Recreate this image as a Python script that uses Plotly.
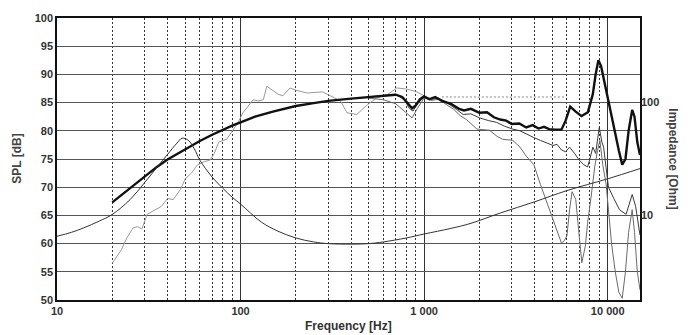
import plotly.graph_objects as go

# --- data ---
# on-axis SPL (thick black)
spl_freq = [20, 25, 30, 35, 40, 50, 60, 70, 80, 90, 100, 120, 150, 200, 250, 300, 400, 500,
            600, 700, 760, 820, 860, 900, 950, 1000, 1070, 1150, 1250, 1400, 1550, 1650, 1800,
            2000, 2200, 2400, 2600, 2800, 3000, 3300, 3600, 3900, 4200, 4500, 4800, 5200, 5600,
            5900, 6250, 6700, 7200, 7800, 8300, 8600, 8900, 9200, 9600, 10000, 10500, 11000,
            11500, 12000, 12500, 13000, 13600, 14000, 14500, 15000]
spl_on = [67.3, 69.8, 72.0, 73.6, 74.9, 76.8, 78.2, 79.3, 80.2, 80.9, 81.5, 82.5, 83.4, 84.4,
          84.9, 85.3, 85.7, 86.0, 86.2, 86.4, 86.0, 84.8, 84.0, 84.5, 85.6, 86.1, 85.6, 86.0,
          85.3, 84.8, 83.9, 83.6, 83.9, 83.2, 83.3, 82.4, 82.0, 81.8, 81.2, 81.3, 80.6, 81.0,
          80.4, 80.7, 80.3, 80.2, 80.2, 81.8, 84.3, 83.4, 82.6, 83.3, 86.5, 90.0, 92.5, 91.5,
          88.5, 86.0, 82.5, 79.5, 76.5, 74.0, 75.0, 80.0, 83.7, 82.5, 78.0, 75.7]

# low-frequency gray curve
lf_freq = [20, 22.5, 24, 26, 27.5, 29, 31, 35, 37, 40, 43, 47, 50, 54, 58, 63, 68, 72, 76, 84,
           91, 97, 103, 110, 117, 125, 133, 139, 150, 160, 170, 186, 200, 230, 280, 307, 350,
           380, 430, 490, 550, 630, 710, 800, 900, 1000]
lf_spl = [56.5, 59.0, 61.0, 62.8, 63.0, 62.6, 65.2, 66.1, 66.6, 68.0, 67.8, 69.6, 71.5, 72.5,
          73.9, 74.5, 74.8, 76.0, 78.0, 78.5, 80.2, 81.5, 83.2, 84.5, 85.5, 85.3, 85.5, 87.9,
          87.2, 86.5, 86.2, 87.6, 87.2, 86.7, 86.9, 86.2, 85.3, 83.2, 82.9, 84.6, 85.8, 86.4,
          87.6, 87.4, 87.0, 86.2]

# off-axis curves (thin)
off1_freq = [500, 600, 700, 780, 830, 870, 920, 1000, 1100, 1200, 1330, 1500, 1630, 1800, 2000,
             2250, 2480, 2750, 3040, 3330, 3600, 3960, 4300, 4700, 5040, 5300, 5600, 5900, 6200,
             6600, 7000, 7400, 7770, 8000, 8300, 8600, 9000, 9300, 9500, 9800, 10100, 10800,
             11600, 12600, 13200, 13600, 14200, 14800, 15000]
off1_spl = [86.0, 86.3, 86.5, 85.5, 84.0, 83.5, 84.8, 86.0, 85.6, 85.8, 85.0, 83.8, 82.9, 83.0,
            82.3, 81.8, 81.5, 80.8, 80.3, 80.0, 79.4, 78.8, 78.3, 77.8, 77.4, 77.6, 76.6, 76.3,
            77.1, 76.0, 74.8, 74.0, 73.6, 75.0, 77.1, 76.0, 80.6, 78.0, 77.1, 73.5, 70.0, 68.0,
            66.0, 65.2, 67.5, 68.7, 66.6, 62.6, 61.5]

off2_freq = [500, 600, 700, 780, 830, 860, 920, 1000, 1100, 1200, 1330, 1450, 1570, 1700, 1940,
             2270, 2500, 2680, 3040, 3330, 3600, 3960, 4300, 4700, 5040, 5300, 5600, 5800, 6000,
             6200, 6400, 6700, 7000, 7230, 7560, 7770, 8100, 8500, 8800, 9070, 9400, 9800, 10100,
             10500, 11000, 11500, 12000, 12500, 13000, 13600, 14000, 14500, 15000]
off2_spl = [85.8, 85.5, 84.8, 83.5, 82.6, 82.3, 84.0, 85.8, 85.4, 85.6, 84.6, 83.8, 82.7, 82.0,
            80.3, 80.1, 79.0, 78.5, 78.3, 77.1, 75.5, 74.0, 70.5, 67.0, 64.3, 62.0, 60.1, 60.5,
            61.4, 66.0, 69.2, 67.8, 62.0, 56.6, 59.6, 63.6, 68.0, 73.6, 76.5, 78.3, 74.0, 70.6,
            66.0, 60.0, 55.0, 51.4, 50.3, 55.0, 62.0, 66.0, 62.0, 55.0, 51.8]

# dotted reference level
ref_freq = [1250, 5800]
ref_spl = [86.0, 86.0]

# impedance [Ohm] (right axis)
imp_freq = [10, 12, 14, 17, 20, 25, 30, 35, 40, 45, 48, 52, 56, 60, 70, 80, 90, 100, 130, 160,
            200, 250, 300, 400, 500, 600, 800, 1000, 1400, 1800, 2600, 4000, 6000, 10000, 15000]
imp_ohm = [6.53, 7.08, 7.76, 8.91, 10.2, 13.8, 19.5, 26.6, 34.7, 43.7, 48.4, 46.2, 38.9, 30.9,
           21.9, 17.4, 14.5, 12.6, 8.71, 7.24, 6.31, 5.82, 5.62, 5.56, 5.62, 5.82, 6.31, 6.84,
           7.67, 8.51, 10.5, 13.2, 16.6, 21.1, 26.0]

x_ticks = [10, 100, 1000, 10000]
x_labels = ["10", "100", "1 000", "10 000"]

FONT = "Liberation Sans, Arial, sans-serif"

fig = go.Figure()

fig.add_trace(go.Scatter(x=imp_freq, y=imp_ohm, yaxis="y2", mode="lines",
                         line=dict(color="#333", width=1), line_shape="spline"))
fig.add_trace(go.Scatter(x=lf_freq, y=lf_spl, mode="lines",
                         line=dict(color="#9a9a9a", width=1)))
fig.add_trace(go.Scatter(x=ref_freq, y=ref_spl, mode="lines",
                         line=dict(color="#888", width=1, dash="2px,2px")))
fig.add_trace(go.Scatter(x=off2_freq, y=off2_spl, mode="lines",
                         line=dict(color="#6a6a6a", width=1)))
fig.add_trace(go.Scatter(x=off1_freq, y=off1_spl, mode="lines",
                         line=dict(color="#3a3a3a", width=1)))
fig.add_trace(go.Scatter(x=spl_freq, y=spl_on, mode="lines",
                         line=dict(color="#111", width=2.4)))

fig.update_layout(
    width=692, height=335,
    margin=dict(l=57, r=52, t=14, b=35),
    paper_bgcolor="white", plot_bgcolor="white",
    showlegend=False,
    font=dict(family=FONT, color="#333"),
    xaxis=dict(
        type="log", range=[1, 4.1761],
        tickvals=x_ticks, ticktext=x_labels,
        tickfont=dict(size=11, weight="bold", color="#333"),
        showgrid=True, gridcolor="#333", gridwidth=1,
        minor=dict(dtick="D1", showgrid=True, gridcolor="#333", gridwidth=1,
                   griddash="2px,2px"),
        showline=True, linecolor="#111", linewidth=1.5, mirror=True,
        ticks="", zeroline=False,
    ),
    yaxis=dict(
        range=[50, 100], dtick=5,
        tickfont=dict(size=11, weight="bold", color="#333"),
        showgrid=True, gridcolor="#555", gridwidth=1,
        showline=True, linecolor="#111", linewidth=1.5, mirror=True,
        ticks="", zeroline=False,
    ),
    yaxis2=dict(
        type="log", range=[0.25, 2.75], overlaying="y", side="right",
        tickvals=[10, 100], ticktext=["10", "100"],
        tickfont=dict(size=11, weight="bold", color="#333"),
        showgrid=False, showline=False, ticks="", zeroline=False,
    ),
    annotations=[
        dict(text="Frequency [Hz]", xref="paper", yref="paper", x=0.5, y=-0.091,
             xanchor="center", yanchor="middle", showarrow=False,
             font=dict(size=12, weight="bold", color="#333")),
        dict(text="SPL [dB]", xref="paper", yref="paper", x=-0.069, y=0.5,
             xanchor="center", yanchor="middle", textangle=-90, showarrow=False,
             font=dict(size=12, weight="bold", color="#444")),
        dict(text="Impedance [Ohm]", xref="paper", yref="paper", x=1.056, y=0.5,
             xanchor="center", yanchor="middle", textangle=90, showarrow=False,
             font=dict(size=12, weight="bold", color="#444")),
    ],
)

# page body has a default 8px margin; drop it so the figure sits at the window origin
fig.write_html("out.html", config={"displayModeBar": False},
               post_script="document.body.style.margin='0';")
